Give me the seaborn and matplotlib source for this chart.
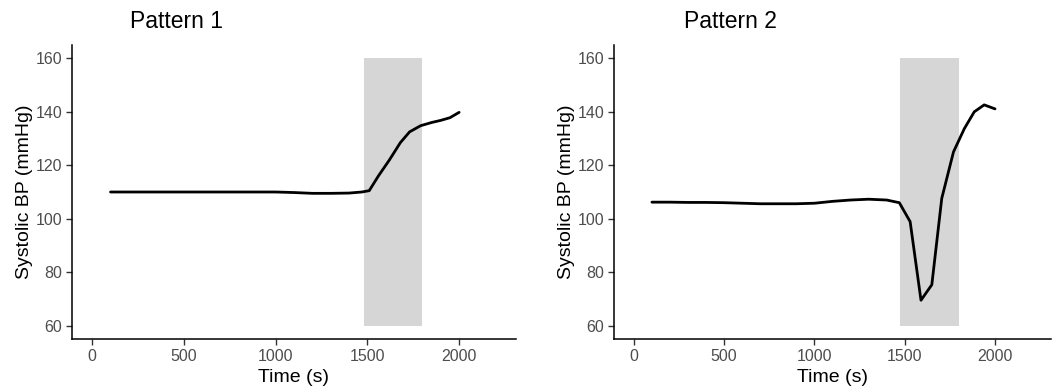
import matplotlib
matplotlib.use('agg')

import pandas as pd
import seaborn as sns
import matplotlib.pyplot as plt

sns.set_style('ticks')
plt.rcParams['font.family'] = ['Liberation Sans', 'DejaVu Sans']
plt.rcParams['text.color'] = 'black'
plt.rcParams['axes.labelcolor'] = 'black'

# pattern 1: steady, then a rise during the shaded window
time_1 = [100, 200, 300, 400, 500, 600, 700, 800, 900, 1000, 1100, 1200, 1300, 1400,
          1470, 1510, 1560, 1620, 1680, 1730, 1790, 1850, 1900, 1950, 2000]
sbp_1 = [110, 110, 110, 110, 110, 110, 110, 110, 110, 110, 109.8, 109.5, 109.5, 109.6,
         110, 110.5, 116, 122, 128.5, 132.5, 134.8, 136, 136.8, 137.8, 139.8]

# pattern 2: steady, sharp drop then overshoot
time_2 = [100, 200, 300, 400, 500, 600, 700, 800, 900, 1000, 1100, 1200, 1300, 1400,
          1470, 1530, 1590, 1650, 1705, 1770, 1830, 1885, 1940, 2000]
sbp_2 = [106.2, 106.2, 106.1, 106.1, 106, 105.8, 105.6, 105.6, 105.6, 105.8, 106.5, 107, 107.3, 107,
         106, 98.9, 69.5, 75.3, 107.6, 125, 133.7, 140, 142.6, 141.1]

shade_1 = (1480, 1800)
shade_2 = (1475, 1800)
shade_y = (60, 160)

titles = ['Pattern 1', 'Pattern 2']
x_ticks = [0, 500, 1000, 1500, 2000]
y_ticks = [60, 80, 100, 120, 140, 160]

W, H = 1056, 391
fig = plt.figure(figsize=(W / 100, H / 100), dpi=100)

panels = [
    (time_1, sbp_1, shade_1, [72, 45, 444, 294], 130),
    (time_2, sbp_2, shade_2, [614, 45, 437, 294], 684),
]

for (t, v, shade, box, title_x), title in zip(panels, titles):
    left, top, w, h = box
    ax = fig.add_axes([left / W, (H - top - h) / H, w / W, h / H])
    ax.fill_betweenx(shade_y, shade[0], shade[1], color='#d6d6d6', lw=0, zorder=1)
    df = pd.DataFrame({'time': t, 'sbp': v})
    sns.lineplot(data=df, x='time', y='sbp', color='black', lw=2, ax=ax, zorder=2)

    ax.set_xlim(-110, 2310)
    ax.set_ylim(55, 165)
    ax.set_xticks(x_ticks)
    ax.set_yticks(y_ticks)
    ax.tick_params(labelsize=11.5, labelcolor='#4d4d4d', color='#333333',
                   length=4, width=1, pad=3)
    sns.despine(ax=ax)
    for side in ['left', 'bottom']:
        ax.spines[side].set_linewidth(1.1)
        ax.spines[side].set_color('black')
    ax.set_xlabel('Time (s)', fontsize=14, labelpad=4)
    ax.set_ylabel('Systolic BP (mmHg)', fontsize=14, labelpad=2)

    fig.text(title_x / W, 1 - 22 / H, title, fontsize=16.5, ha='left', va='center')

fig.savefig('out.png', dpi=100)
